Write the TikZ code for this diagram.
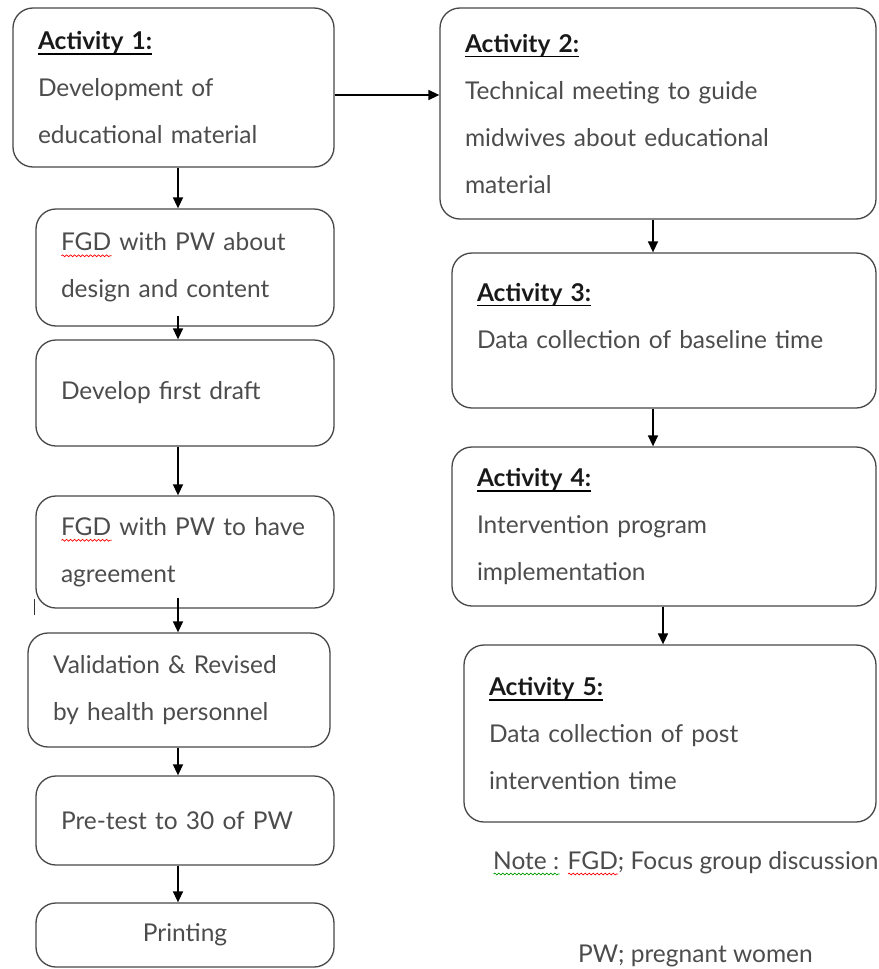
\documentclass[tikz,border=0pt]{standalone}
\usepackage{fontspec}
\setmainfont{Lato}
\usetikzlibrary{positioning, calc}
\usetikzlibrary{arrows.meta, decorations.pathmorphing}
\tikzset{>={Triangle[length=11pt,width=10pt]}}
\colorlet{myframe}{black!72}
\colorlet{mytext}{black!70}
\colorlet{mygreen}{green!60!black}
\newlength\marklen
\newcommand\spellwave[2]{\settowidth\marklen{#2}%
  \rlap{\tikz[baseline=0pt]\draw[#1,line width=0.7pt,rounded corners=0pt,decorate,
    decoration={snake,amplitude=0.9pt,segment length=4pt}] (0pt,-5pt) -- (\marklen,-5pt);}#2}
\newcommand\acthead[1]{\settowidth\marklen{\textbf{#1}}%
  \rlap{\tikz[baseline=0pt]\fill[black,rounded corners=0pt] (0pt,-3.5pt) rectangle (\marklen,-5pt);}%
  \textcolor{black!90}{\textbf{#1}}}
\tikzset{ % boxes, arrows and notes
  my box/.style={rectangle,rounded corners=20pt,draw=myframe,line width=1.3pt,
    inner xsep=25pt,inner ysep=0pt,align=left,text=mytext,
    font=\fontsize{24.5}{47}\selectfont},
  my note/.style={inner sep=0pt,text=mytext,font=\fontsize{24.5}{28}\selectfont},
  my arrow/.style={->,line width=1.5pt,black}
}

\begin{document}
\begin{tikzpicture}[x=1pt,y=-1pt]
\useasboundingbox (0,0) rectangle (878,969);

% left column
\node[my box,minimum width=321pt,minimum height=159pt,text width=271pt] (act1) at (173.5,87.5)
  {\acthead{Activity 1:}\\Development of\\educational material};
\node[my box,minimum width=298pt,minimum height=117pt,text width=248pt] (fgd1) at (185,267.5)
  {\spellwave{red}{FGD} with PW about\\design and content};
\node[my box,minimum width=298pt,minimum height=106pt,text width=248pt] (draft) at (185,393)
  {Develop first draft};
\node[my box,minimum width=298pt,minimum height=112pt,text width=248pt] (fgd2) at (185,552)
  {\spellwave{red}{FGD} with PW to have\\agreement};
\node[my box,minimum width=302pt,minimum height=114pt,text width=252pt] (valid) at (179,690)
  {Validation \& Revised\\by health personnel};
\node[my box,minimum width=298pt,minimum height=89pt,text width=248pt] (pretest) at (185,820.5)
  {Pre-test to 30 of PW};
\node[my box,minimum width=298pt,minimum height=64pt,text width=248pt,align=center] (print) at (185,935)
  {Printing};

% right column
\node[my box,minimum width=436pt,minimum height=211pt,text width=386pt] (act2) at (658,113.5)
  {\acthead{Activity 2:}\\Technical meeting to guide\\midwives about educational\\material};
\node[my box,minimum width=424pt,minimum height=155pt,text width=374pt] (act3) at (664,330.5)
  {\acthead{Activity 3:}\\Data collection of baseline time\\[-17pt]\mbox{}};
\node[my box,minimum width=424pt,minimum height=159pt,text width=374pt] (act4) at (664,526.5)
  {\acthead{Activity 4:}\\Intervention program\\implementation};
\node[my box,minimum width=412pt,minimum height=177pt,text width=362pt] (act5) at (670,733.5)
  {\acthead{Activity 5:}\\Data collection of post\\intervention time};

% notes
\node[my note,anchor=base west] (note1) at (493,869)
  {\spellwave{mygreen}{Note :} \spellwave{red}{FGD}; Focus group discussion};
\node[my note,anchor=base west] (note2) at (578,962) {PW; pregnant women};

% connections
\coordinate (lx) at (178,0);
\coordinate (rx) at (653,0);
\coordinate (rx2) at (663,0);
\coordinate (a12) at ($(act1.east)+(0,7.5)$);
\draw[my arrow] (a12) -- (a12 -| act2.west);
\draw[my arrow] (act1.south -| lx) -- (fgd1.north -| lx);
\draw[my arrow] ($(fgd1.south -| lx)+(0,-11)$) -- (draft.north -| lx);
\draw[my arrow] (draft.south -| lx) -- (fgd2.north -| lx);
\draw[my arrow] ($(fgd2.south -| lx)+(0,-11)$) -- (valid.north -| lx);
\draw[my arrow] (valid.south -| lx) -- (pretest.north -| lx);
\draw[my arrow] (pretest.south -| lx) -- (print.north -| lx);
\draw[my arrow] (act2.south -| rx) -- (act3.north -| rx);
\draw[my arrow] (act3.south -| rx) -- (act4.north -| rx);
\draw[my arrow] (act4.south -| rx2) -- (act5.north -| rx2);

% stray tick beside fgd2
\draw[line width=1.5pt,black!80] ($(fgd2.south west)+(-1,-10)$) -- ++(0,16);
\end{tikzpicture}
\end{document}
